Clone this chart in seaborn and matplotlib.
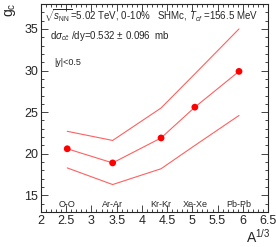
import numpy as np
import pandas as pd
import matplotlib
matplotlib.use("Agg")
import matplotlib.pyplot as plt
import seaborn as sns
from matplotlib.ticker import MultipleLocator, FuncFormatter

systems = ["O-O", "Ar-Ar", "Kr-Kr", "Xe-Xe", "Pb-Pb"]
a13 = [2.52, 3.42, 4.38, 5.05, 5.925]
gc_central = [20.6, 18.9, 21.9, 25.6, 29.9]
gc_upper = [22.7, 21.6, 25.5, 29.6, 35.0]
gc_lower = [18.3, 16.3, 18.2, 21.0, 24.6]

df = pd.DataFrame({"system": systems, "a13": a13, "gc": gc_central,
                   "up": gc_upper, "lo": gc_lower})

sns.set_style("ticks")
plt.rcParams["font.family"] = ["Liberation Sans", "DejaVu Sans"]
plt.rcParams["mathtext.fontset"] = "custom"
plt.rcParams["mathtext.rm"] = "Liberation Sans"
plt.rcParams["mathtext.it"] = "Liberation Sans:italic"

fig = plt.figure(figsize=(2.76, 2.47), dpi=100)
ax = fig.add_axes([41 / 276, 35 / 247, 227 / 276, 208 / 247])

sns.lineplot(data=df, x="a13", y="up", color="#ff6060", lw=0.8, ax=ax)
sns.lineplot(data=df, x="a13", y="lo", color="#ff6060", lw=0.8, ax=ax)
sns.lineplot(data=df, x="a13", y="gc", color="#ff6060", lw=0.8, ax=ax)
sns.scatterplot(data=df, x="a13", y="gc", color="red", s=24, edgecolor="none", ax=ax, zorder=5)

for name, xv in zip(systems, a13):
    ax.text(xv, 13.35, name, ha="center", va="bottom", fontsize=6.5)

ax.text(2.05, 37.6, r"$\sqrt{s_{\rm NN}}$=5.02 TeV, 0-10%   SHMc, $T_{cf}$ =156.5 MeV",
        fontsize=7.0, va="top")
ax.text(2.17, 34.2, r"d$\sigma_{c\bar{c}}$ /dy=0.532 $\pm$ 0.096  mb", fontsize=7, va="center")
ax.text(2.27, 31.0, "|y|<0.5", fontsize=6.5, va="center")

ax.set_xlim(2, 6.5)
ax.set_ylim(13, 38)
ax.xaxis.set_major_locator(MultipleLocator(0.5))
ax.xaxis.set_minor_locator(MultipleLocator(0.1))
ax.yaxis.set_major_locator(MultipleLocator(5))
ax.yaxis.set_minor_locator(MultipleLocator(1))
ax.xaxis.set_major_formatter(FuncFormatter(lambda v, p: "%g" % v))
ax.tick_params(which="both", direction="in", top=True, right=True, labelsize=9, pad=2)
ax.tick_params(which="major", length=5, width=0.6)
ax.tick_params(which="minor", length=2.5, width=0.6)
for s in ax.spines.values():
    s.set_linewidth(0.8)

ax.set_xlabel("")
ax.set_ylabel("")
fig.text(3 / 276, 244 / 247, r"g$_{\rm c}$", rotation=90, fontsize=10, ha="left", va="top")
fig.text(270 / 276, 1 / 247, r"A$^{1/3}$", fontsize=10, ha="right", va="bottom")

fig.savefig("out.png", dpi=100)
